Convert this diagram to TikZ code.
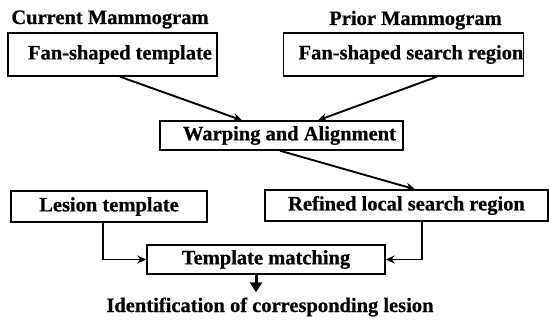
\documentclass[tikz,border=0pt]{standalone}
\usepackage{fontspec}
\setmainfont{Liberation Serif}[BoldFeatures={FakeBold=0.6}]
\usepackage{tikz}
\usetikzlibrary{arrows.meta, calc}
\tikzset{
  stepbox/.style={draw, line width=1.4pt, inner sep=0pt, font=\fontsize{20.5}{24}\selectfont\bfseries},
  heading/.style={inner sep=0pt, anchor=base, font=\fontsize{20.5}{24}\selectfont\bfseries},
  flow/.style={line width=1.9pt, -{Stealth[length=9pt, width=8pt]}},
  bigflow/.style={line width=3pt, -{Triangle[length=10pt, width=12pt]}}
}
\begin{document}
\begin{tikzpicture}[x=1pt, y=-1pt]
  \useasboundingbox (0,0) rectangle (549,321);

  % column headings
  \node[heading] (cur) at (110,24) {Current Mammogram};
  \node[heading] (pri) at (415.5,25) {Prior Mammogram};

  % top row
  \node[stepbox, minimum width=209pt, minimum height=43pt] (fan) at (112.5,54.5) {\hspace{15pt}Fan-shaped template};
  \node[stepbox, minimum width=239pt, minimum height=43pt] (search) at (403.5,54.5) {\hspace{15pt}Fan-shaped search region};

  % registration
  \node[stepbox, minimum width=243pt, minimum height=29pt] (warp) at (281.5,135.5) {\hspace{16pt}Warping and Alignment};

  % second row
  \node[stepbox, minimum width=196pt, minimum height=31pt] (lesion) at (109,206.5) {Lesion template};
  \node[stepbox, minimum width=283pt, minimum height=31pt] (refined) at (406.5,205.5) {Refined local search region};

  % matching and result
  \node[stepbox, minimum width=238pt, minimum height=29pt] (match) at (266,259.5) {Template matching};
  \node[heading] (ident) at (270,312) {Identification of corresponding lesion};

  % connectors
  \draw[flow] ([xshift=7.5pt]fan.south) -- ([xshift=-39.5pt]warp.north);
  \draw[flow] ([xshift=33.5pt]search.south) -- ([xshift=36.5pt]warp.north);
  \draw[flow] ([xshift=-1.5pt]warp.south) -- ([xshift=8.5pt]refined.north);
  \draw[flow] ([xshift=-6pt]lesion.south) |- (match.west);
  \draw[flow] ([xshift=15.5pt]refined.south) |- (match.east);
  \draw[bigflow] ([xshift=-10pt]match.south) -- ([xshift=-10pt, yshift=5pt]match.south |- ident.north);
\end{tikzpicture}
\end{document}
